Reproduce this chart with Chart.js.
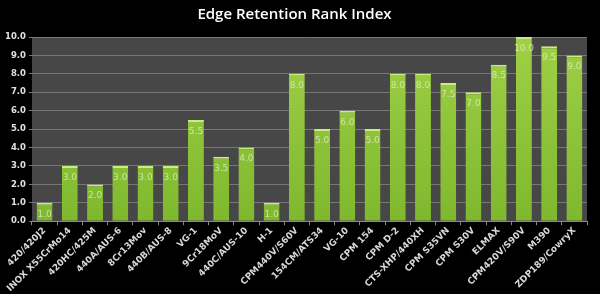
<!DOCTYPE html>
<html>
<head>
<meta charset="utf-8">
<script src="https://cdn.jsdelivr.net/npm/chart.js@4.4.1/dist/chart.umd.min.js"></script>
<style>
    html, body { margin: 0; padding: 0; background: #000; }
    #wrap { width: 600px; height: 294px; }
</style>
</head>
<body>
<div id="wrap"><canvas id="edgeChart"></canvas></div>
<script>
const steels = [
    '420/420J2', 'INOX X55CrMo14', '420HC/425M', '440A/AUS-6', '8Cr13Mov', '440B/AUS-8',
    'VG-1', '9Cr18MoV', '440C/AUS-10', 'H-1', 'CPM440V/S60V', '154CM/ATS34', 'VG-10',
    'CPM 154', 'CPM D-2', 'CTS-XHP/440XH', 'CPM S35VN', 'CPM S30V', 'ELMAX',
    'CPM420V/S90V', 'M390', 'ZDP189/CowryX'
];
const rankIndex = [1.0, 3.0, 2.0, 3.0, 3.0, 3.0, 5.5, 3.5, 4.0, 1.0, 8.0, 5.0, 6.0, 5.0, 8.0, 8.0, 7.5, 7.0, 8.5, 10.0, 9.5, 9.0];

// grey plot background behind the bars
const plotBackground = {
    id: 'plotBackground',
    beforeDraw: function (chart) {
        const a = chart.chartArea, ctx = chart.ctx;
        ctx.save();
        ctx.fillStyle = '#474747';
        ctx.fillRect(a.left, a.top, a.right - a.left, a.bottom - a.top);
        ctx.restore();
    }
};

// value labels just under the top of each bar
const barValues = {
    id: 'barValues',
    afterDatasetsDraw: function (chart) {
        const ctx = chart.ctx;
        const meta = chart.getDatasetMeta(0);
        ctx.save();
        ctx.font = '9px "DejaVu Sans", sans-serif';
        ctx.fillStyle = 'rgba(225, 240, 200, 0.75)';
        ctx.textAlign = 'center';
        ctx.textBaseline = 'top';
        meta.data.forEach(function (bar, i) {
            ctx.fillText(rankIndex[i].toFixed(1), bar.x, bar.y + 7);
        });
        ctx.restore();
    }
};

const ctx = document.getElementById('edgeChart').getContext('2d');
new Chart(ctx, {
    type: 'bar',
    data: {
        labels: steels,
        datasets: [{
            label: 'Edge Retention',
            data: rankIndex,
            backgroundColor: function (context) {
                const area = context.chart.chartArea;
                if (!area) return '#8cc43a';
                const g = context.chart.ctx.createLinearGradient(0, area.top, 0, area.bottom);
                g.addColorStop(0, '#9fd046');
                g.addColorStop(1, '#7fb82e');
                return g;
            },
            borderColor: '#c8ec80',
            borderWidth: { top: 2, left: 0, right: 0, bottom: 0 },
            borderSkipped: false,
            barPercentage: 0.7,
            categoryPercentage: 0.9
        }]
    },
    options: {
        responsive: true,
        maintainAspectRatio: false,
        animation: false,
        layout: { padding: { left: 2, right: 13, top: 0, bottom: 0 } },
        plugins: {
            legend: { display: false },
            tooltip: { enabled: false },
            title: {
                display: true,
                text: 'Edge Retention Rank Index',
                color: '#ffffff',
                font: { family: '"Open Sans", sans-serif', size: 15, weight: '600' },
                padding: { top: 6, bottom: 13 }
            }
        },
        scales: {
            x: {
                grid: { display: true, drawOnChartArea: false, color: '#8a8a8a', tickLength: 4, offset: true },
                border: { color: '#8a8a8a' },
                ticks: {
                    color: '#d8d8d8',
                    font: { family: '"DejaVu Sans", sans-serif', size: 9, weight: 'bold' },
                    minRotation: 45,
                    maxRotation: 45,
                    autoSkip: false,
                    padding: 0
                }
            },
            y: {
                min: 0,
                max: 10,
                grid: { color: '#777777', tickLength: 3 },
                border: { display: false },
                ticks: {
                    stepSize: 1,
                    color: '#e0e0e0',
                    font: { family: '"DejaVu Sans", sans-serif', size: 8.5, weight: 'bold' },
                    padding: 3,
                    callback: function (value) { return value.toFixed(1); }
                }
            }
        }
    },
    plugins: [plotBackground, barValues]
});
</script>
</body>
</html>
